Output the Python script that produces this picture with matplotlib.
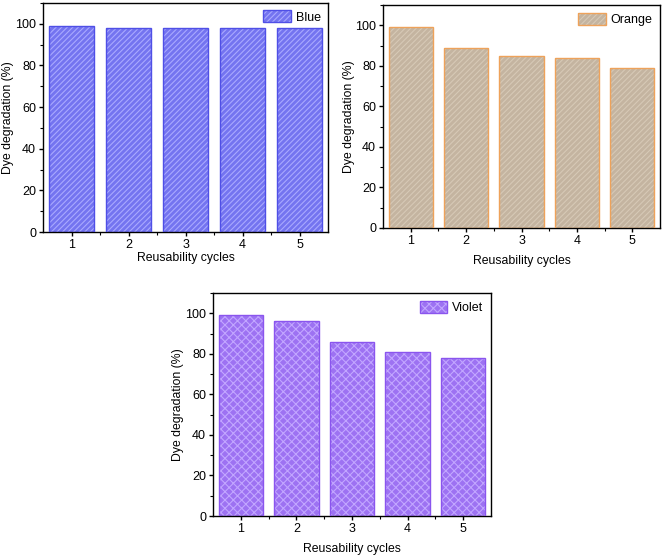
import matplotlib
matplotlib.use("Agg")
import matplotlib.pyplot as plt
from matplotlib.ticker import MultipleLocator

plt.rcParams['font.family'] = ['Liberation Sans', 'DejaVu Sans']
plt.rcParams['hatch.linewidth'] = 0.8

cycles = [1, 2, 3, 4, 5]
blue_vals = [99, 98, 98, 98, 98]
orange_vals = [99, 89, 85, 84, 79]
violet_vals = [99, 96, 86, 81, 78]

fig = plt.figure(figsize=(6.63, 5.56), dpi=100)

panels = [
    ([0.0649, 0.5827, 0.4299, 0.412], blue_vals, 'Blue',
     '#7474f0', '#a9a9ff', '//////', '#4f4fe6', 1, 0.5),
    ([0.5777, 0.590, 0.4178, 0.401], orange_vals, 'Orange',
     '#c4b4a0', '#d6c9b6', '//////', '#eea25a', 5.5, 0.0),
    ([0.3213, 0.0719, 0.4193, 0.401], violet_vals, 'Violet',
     '#9d72f2', '#c2a6ff', 'xxxx', '#8a55ee', 5.5, 0.5),
]

for rect, vals, name, face, hcol, hatch, edge, xpad, ypad in panels:
    ax = fig.add_axes(rect)
    b1 = ax.bar(cycles, vals, width=0.8, color=face, hatch=hatch,
                edgecolor=hcol, linewidth=0, zorder=2)
    b2 = ax.bar(cycles, vals, width=0.8, fill=False, edgecolor=edge,
                linewidth=1.0, zorder=3)
    ax.set_xlim(0.5, 5.5)
    ax.set_ylim(0, 110)
    ax.set_xticks(cycles)
    ax.set_xticks([1.5, 2.5, 3.5, 4.5], minor=True)
    ax.set_yticks([0, 20, 40, 60, 80, 100])
    ax.yaxis.set_minor_locator(MultipleLocator(10))
    ax.tick_params(which='major', direction='out', length=3, width=1,
                   pad=2, labelsize=9, top=False, right=False)
    ax.tick_params(which='minor', direction='out', length=2, width=0.8,
                   top=False, right=False)
    for s in ax.spines.values():
        s.set_linewidth(1.0)
    ax.set_xlabel('Reusability cycles', fontsize=8.8, labelpad=xpad)
    ax.set_ylabel('Dye degradation (%)', fontsize=8.8, labelpad=ypad)
    ax.legend([(b1[0], b2[0])], [name], loc='upper right', frameon=False,
              fontsize=9, handlelength=2.2, handleheight=1.1,
              borderaxespad=0.2, handletextpad=0.4)

fig.savefig('out.png', dpi=100)
